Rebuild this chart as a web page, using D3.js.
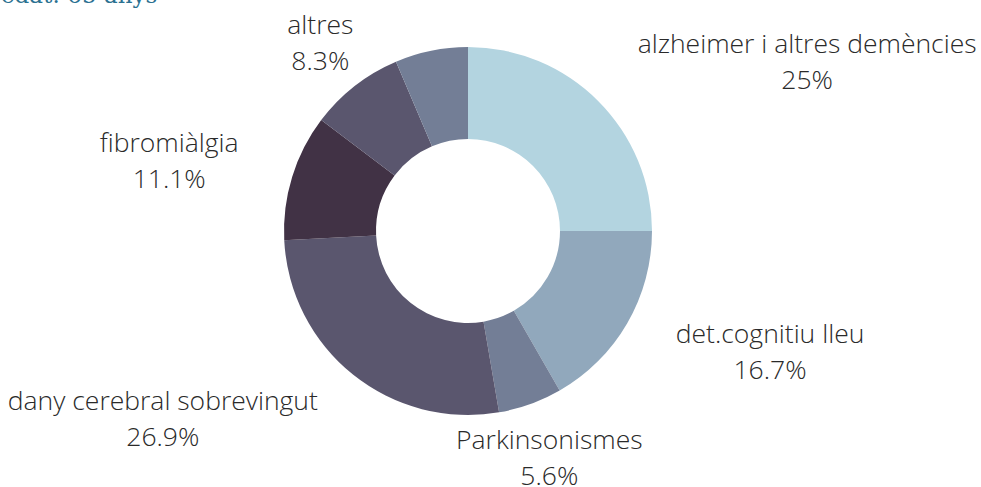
<!DOCTYPE html>
<html>
<head>
<meta charset="utf-8">
<script src="https://cdn.jsdelivr.net/npm/d3@7"></script>
<style>
  body { margin: 0; background: #fff; }
  svg { display: block; }
</style>
</head>
<body>
<div id="chart"></div>
<script>
var svgWidth = 981;
var svgHeight = 487;

// data
var categories = ["alzheimer i altres demències", "det.cognitiu lleu", "Parkinsonismes",
  "dany cerebral sobrevingut", "fibromiàlgia", "altres", ""];
var values = [25, 16.7, 5.6, 26.9, 11.1, 8.3, 6.4];
var percentLabels = ["25%", "16.7%", "5.6%", "26.9%", "11.1%", "8.3%", ""];
var colors = ["#b3d4e0", "#91a8bc", "#737e96", "#5a566e", "#413245", "#5a566e", "#737e96"];

var cx = 468, cy = 231;
var outerR = 184, innerR = 92, labelR = 240;

var svg = d3.select("#chart")
  .append("svg")
  .attr("width", svgWidth)
  .attr("height", svgHeight);

// cut-off subtitle at the very top
svg.append("text")
  .attr("x", 1)
  .attr("y", 3)
  .attr("font-family", "DejaVu Serif")
  .attr("font-size", "23px")
  .attr("fill", "#2b7191")
  .text("edat: 65 anys");

var data = categories.map(function(c, i) {
  return { name: c, value: values[i], pct: percentLabels[i], color: colors[i] };
});

var pie = d3.pie()
  .sort(null)
  .value(d => d.value);

var arc = d3.arc()
  .innerRadius(innerR)
  .outerRadius(outerR);

var labelArc = d3.arc()
  .innerRadius(labelR)
  .outerRadius(labelR);

var g = svg.append("g")
  .attr("transform", `translate(${cx}, ${cy})`);

var arcs = pie(data);

g.selectAll("path")
  .data(arcs)
  .enter()
  .append("path")
  .attr("d", arc)
  .attr("fill", d => d.data.color);

// labels: centred on the label point, pushed sideways if they hit the ring
var labels = g.selectAll("g.lbl")
  .data(arcs.filter(d => d.data.name !== ""))
  .enter()
  .append("g")
  .attr("class", "lbl");

labels.each(function(d) {
  var sel = d3.select(this);
  var p = labelArc.centroid(d);
  var t = sel.append("text")
    .attr("font-family", "Open Sans")
    .attr("font-weight", 300)
    .attr("font-size", "26.5px")
    .attr("fill", "#2a2a2a")
    .attr("text-anchor", "middle");
  t.append("tspan").attr("x", 0).attr("y", -8).text(d.data.name);
  t.append("tspan").attr("x", 0).attr("y", 28).text(d.data.pct);

  var b = t.node().getBBox();
  var x0 = p[0] + b.x, x1 = x0 + b.width;
  var y0 = p[1] + b.y, y1 = y0 + b.height;
  var nx = Math.max(x0, Math.min(0, x1));
  var ny = Math.max(y0, Math.min(0, y1));
  var shift = 0;
  if (Math.sqrt(nx * nx + ny * ny) < outerR + 4) {
    shift = p[0] > 0 ? b.width / 2 : -b.width / 2;
  }
  sel.attr("transform", `translate(${p[0] + shift}, ${p[1]})`);
});
</script>
</body>
</html>
